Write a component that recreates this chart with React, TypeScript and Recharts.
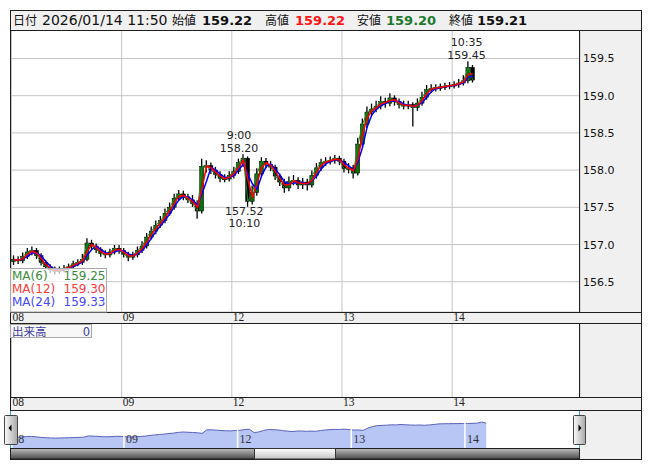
import React from 'react'
import {
  ComposedChart, AreaChart, Area, Bar, Line, XAxis, YAxis,
  CartesianGrid, ReferenceDot, ReferenceLine,
} from 'recharts'

// hourly bars, 08 07:00 -> 14 11:50 (hour index from the 08 day change)
const firstOpen = 156.77
const closes = [
  156.80, 156.78, 156.84, 156.90, 156.92, 156.85, 156.76, 156.70, 156.66, 156.64,
  156.66, 156.68, 156.70, 156.74, 156.76, 156.80, 157.02, 156.98, 156.93, 156.88,
  156.86, 156.90, 156.95, 156.92, 156.87, 156.83, 156.86, 156.92, 156.98, 157.10,
  157.18, 157.26, 157.32, 157.42, 157.50, 157.62, 157.68, 157.64, 157.60, 157.55,
  157.45, 158.05, 158.06, 158.00, 157.94, 157.89, 157.88, 157.93, 157.98, 158.10,
  158.16, 157.58, 157.70, 157.95, 158.12, 158.08, 158.04, 157.92, 157.84, 157.76,
  157.85, 157.86, 157.80, 157.84, 157.80, 157.93, 158.03, 158.10, 158.12, 158.13,
  158.16, 158.12, 158.02, 158.03, 157.96, 158.35, 158.62, 158.78, 158.82, 158.86,
  158.92, 158.90, 158.97, 158.92, 158.88, 158.86, 158.88, 158.84, 158.90, 158.98,
  159.08, 159.10, 159.11, 159.12, 159.13, 159.14, 159.15, 159.17, 159.20, 159.38,
  159.21,
]
const highs = [
  156.84, 156.83, 156.88, 156.94, 156.96, 156.94, 156.87, 156.78, 156.72, 156.69,
  156.69, 156.71, 156.73, 156.77, 156.79, 156.86, 157.07, 157.05, 157.00, 156.95,
  156.91, 156.93, 156.98, 156.98, 156.94, 156.89, 156.89, 156.96, 157.03, 157.14,
  157.23, 157.31, 157.37, 157.47, 157.55, 157.67, 157.72, 157.71, 157.67, 157.65,
  157.58, 158.14, 158.12, 158.09, 158.03, 157.97, 157.93, 157.97, 158.03, 158.14,
  158.20, 158.17, 157.78, 158.01, 158.16, 158.15, 158.11, 158.06, 157.94, 157.87,
  157.90, 157.92, 157.89, 157.88, 157.87, 157.98, 158.08, 158.14, 158.16, 158.17,
  158.19, 158.18, 158.14, 158.08, 158.06, 158.42, 158.68, 158.84, 158.88, 158.92,
  158.98, 158.96, 159.02, 158.99, 158.95, 158.92, 158.92, 158.90, 158.95, 159.04,
  159.13, 159.14, 159.14, 159.15, 159.16, 159.17, 159.18, 159.21, 159.26, 159.45,
  159.40,
]
const lows = [
  156.74, 156.75, 156.76, 156.82, 156.87, 156.82, 156.73, 156.68, 156.63, 156.61,
  156.62, 156.64, 156.66, 156.69, 156.72, 156.74, 156.79, 156.94, 156.90, 156.85,
  156.83, 156.84, 156.88, 156.89, 156.84, 156.79, 156.81, 156.84, 156.90, 156.96,
  157.08, 157.15, 157.24, 157.30, 157.40, 157.48, 157.60, 157.61, 157.57, 157.52,
  157.36, 157.43, 157.98, 157.96, 157.90, 157.85, 157.85, 157.86, 157.90, 157.96,
  158.06, 157.52, 157.55, 157.67, 157.93, 158.04, 158.00, 157.88, 157.80, 157.71,
  157.73, 157.81, 157.76, 157.76, 157.74, 157.78, 157.90, 158.00, 158.07, 158.09,
  158.10, 158.08, 157.98, 157.97, 157.90, 157.94, 158.32, 158.58, 158.74, 158.79,
  158.83, 158.85, 158.87, 158.88, 158.84, 158.83, 158.83, 158.60, 158.81, 158.88,
  158.96, 159.05, 159.07, 159.08, 159.09, 159.10, 159.11, 159.12, 159.15, 159.18,
  159.19,
]

const dayStarts = [0, 24, 48, 72, 96]
const dayLabels = ['08', '09', '12', '13', '14']
const priceTicks = [156.5, 157.0, 157.5, 158.0, 158.5, 159.0, 159.5]

const headerDate = '2026/01/14 11:50'
const headerOpen = '159.22'
const headerHigh = '159.22'
const headerLow = '159.20'
const headerClose = '159.21'

const maNames = ['MA(6)', 'MA(12)', 'MA(24)']
const maValues = ['159.25', '159.30', '159.33']
const maColors = ['#3a8c3a', '#ff3a3a', '#4646ff']

const annotations = [
  { t: 99.58, price: 159.45, lines: ['10:35', '159.45'], below: false },
  { t: 50.0, price: 158.2, lines: ['9:00', '158.20'], below: false },
  { t: 51.17, price: 157.52, lines: ['157.52', '10:10'], below: true },
]

const volumeTotal = '0'

const FONT = '"DejaVu Sans", Verdana, sans-serif'
const SERIF = '"Liberation Serif", "Times New Roman", serif'
const JP = '"Noto Sans CJK JP", sans-serif'
const GRID = '#c4c4c4'
const PANEL = '#f0f0f0'
const FRAME = '#1e1e1e'

const X_DOMAIN: [number, number] = [-0.33, 123.86]
const Y_DOMAIN: [number, number] = [156.093, 159.883]
const NAV_X: [number, number] = [-0.06, 120.3]
const NAV_Y: [number, number] = [154.94, 161.46]

function sma(values: number[], n: number) {
  return values.map((_, i) => {
    const s = values.slice(Math.max(0, i - n + 1), i + 1)
    return s.reduce((a, b) => a + b, 0) / s.length
  })
}

// windows scaled from 5-minute periods to hourly bars
const ma6 = sma(closes, 1)
const ma12 = sma(closes, 2)
const ma24 = sma(closes, 3)

const rows = closes.map((c, i) => ({
  t: i + 0.5,
  open: i === 0 ? firstOpen : closes[i - 1],
  close: c,
  high: highs[i],
  low: lows[i],
  range: [lows[i], highs[i]],
  ma6: ma6[i],
  ma12: ma12[i],
  ma24: ma24[i],
}))

function Candle(props: any) {
  const { x, y, width, height, payload } = props
  if (!payload || x == null) return null
  const top = Math.min(y, y + height)
  const h = Math.abs(height)
  const span = payload.high - payload.low || 1
  const py = (p: number) => top + ((payload.high - p) / span) * h
  const cx = x + width / 2
  const up = payload.close >= payload.open
  const bTop = py(Math.max(payload.open, payload.close))
  const bBot = py(Math.min(payload.open, payload.close))
  return (
    <g>
      <line x1={cx} x2={cx} y1={top - 1} y2={top + h + 1} stroke="#000" strokeWidth={1.3} />
      <rect
        x={cx - 2}
        y={bTop}
        width={4}
        height={Math.max(1.5, bBot - bTop)}
        fill={up ? '#0b6e0b' : '#000'}
        stroke="#000"
        strokeWidth={0.5}
      />
    </g>
  )
}

function AnnotLabel({ viewBox, lines, below }: any) {
  if (!viewBox) return null
  const cx = viewBox.x + (viewBox.width || 0) / 2 - 2
  const cy = viewBox.y + (viewBox.height || 0) / 2
  const offs = below ? [9, 21.5] : [-16, -3.5]
  return (
    <g>
      {lines.map((s: string, k: number) => (
        <text key={k} x={cx} y={cy + offs[k]} textAnchor="middle"
          fontFamily={FONT} fontSize={11} fill="#222">{s}</text>
      ))}
    </g>
  )
}

function DayTick({ x, payload, baseY }: any) {
  const i = dayStarts.indexOf(payload.value)
  return (
    <text x={x + 1} y={baseY} fontFamily={SERIF} fontSize={11.5} fill="#222">
      {dayLabels[i]}
    </text>
  )
}

function PriceTick({ y, payload }: any) {
  return (
    <text x={573} y={y + 4} fontFamily={FONT} fontSize={11} fill="#111">
      {Number(payload.value).toFixed(1)}
    </text>
  )
}

function Header() {
  const base = 24.5
  const lab = (x: number, s: string) => (
    <text x={x} y={base} fontFamily={JP} fontSize={12} fill="#111">{s}</text>
  )
  const val = (x: number, s: string, c: string) => (
    <text x={x} y={base} fontFamily={FONT} fontSize={13} fontWeight="bold" fill={c}>{s}</text>
  )
  return (
    <g>
      <rect x={10.5} y={10.5} width={631} height={20} fill={PANEL} stroke={FRAME} />
      {lab(13, '日付')}
      <text x={42} y={base} fontFamily={FONT} fontSize={14} fill="#111">{headerDate}</text>
      {lab(172, '始値')}
      {val(202, headerOpen, '#111')}
      {lab(265, '高値')}
      {val(295, headerHigh, '#ff1414')}
      {lab(357, '安値')}
      {val(386, headerLow, '#1c7a2c')}
      {lab(449, '終値')}
      {val(477, headerClose, '#111')}
    </g>
  )
}

function Overlay() {
  return (
    <svg width={653} height={470} style={{ position: 'absolute', left: 0, top: 0, pointerEvents: 'none' }}>
      <defs>
        <linearGradient id="scroll" x1="0" y1="0" x2="0" y2="1">
          <stop offset="0%" stopColor="#bdbdbd" />
          <stop offset="100%" stopColor="#4a4a4a" />
        </linearGradient>
        <linearGradient id="thumb" x1="0" y1="0" x2="0" y2="1">
          <stop offset="0%" stopColor="#ffffff" />
          <stop offset="100%" stopColor="#c4c4c4" />
        </linearGradient>
        <linearGradient id="btn" x1="0" y1="0" x2="1" y2="0">
          <stop offset="0%" stopColor="#fafafa" />
          <stop offset="100%" stopColor="#a8a8a8" />
        </linearGradient>
      </defs>
      <Header />
      {/* frame lines */}
      <line x1={10.5} x2={10.5} y1={30} y2={459.5} stroke={FRAME} />
      <line x1={641.5} x2={641.5} y1={30} y2={459.5} stroke={FRAME} />
      <line x1={10} x2={642} y1={459.5} y2={459.5} stroke={FRAME} />
      <line x1={579.5} x2={579.5} y1={30} y2={312} stroke={FRAME} />
      <line x1={579.5} x2={579.5} y1={323} y2={397} stroke={FRAME} />
      <line x1={579.5} x2={579.5} y1={410} y2={459} stroke={FRAME} />
      <line x1={10} x2={642} y1={312.5} y2={312.5} stroke={FRAME} />
      <line x1={10} x2={642} y1={323.5} y2={323.5} stroke={FRAME} />
      <line x1={10} x2={642} y1={397.5} y2={397.5} stroke={FRAME} />
      <line x1={10} x2={642} y1={410.5} y2={410.5} stroke={FRAME} />

      {/* MA legend */}
      <rect x={10.5} y={268.5} width={96} height={43.5} fill="rgba(255,255,255,0.72)" stroke="#a8a8a8" />
      {maNames.map((n, i) => (
        <g key={n}>
          <text x={12} y={280 + i * 13} fontFamily={FONT} fontSize={12} fill={maColors[i]}>{n}</text>
          <text x={105.5} y={280 + i * 13} textAnchor="end" fontFamily={FONT} fontSize={12} fill={maColors[i]}>{maValues[i]}</text>
        </g>
      ))}

      {/* volume label */}
      <rect x={10.5} y={324.5} width={81} height={13} fill="#f7f7f7" stroke="#a8a8a8" />
      <text x={12} y={335.5} fontFamily={JP} fontSize={11.5} fill="#3d3d9e">出来高</text>
      <text x={90} y={335.5} textAnchor="end" fontFamily={FONT} fontSize={11.5} fill="#3d3d9e">{volumeTotal}</text>

      {/* navigator edges */}
      <line x1={10.5} x2={10.5} y1={411} y2={448} stroke="#2ea8e0" />
      <line x1={579.5} x2={579.5} y1={411} y2={448} stroke="#2ea8e0" />

      {/* scrollbar */}
      <rect x={10.5} y={448.5} width={569} height={10.5} fill="url(#scroll)" stroke={FRAME} />
      <rect x={254.5} y={448.5} width={81} height={10.5} fill="url(#thumb)" stroke="#333" />

      {/* nav buttons */}
      <rect x={4.5} y={415.5} width={13} height={29} rx={1} fill="url(#btn)" stroke="#444" />
      <path d="M8.5 428 L11.5 424.5 L11.5 431.5 Z" fill="#000" />
      <rect x={573.5} y={415.5} width={12} height={29} rx={1} fill="url(#btn)" stroke="#444" />
      <path d="M581.5 428 L578.5 424.5 L578.5 431.5 Z" fill="#000" />
    </svg>
  )
}

export default function App() {
  return (
    <div style={{ position: 'absolute', left: 0, top: 0, width: 653, height: 470, background: '#fff' }}>
      <div style={{ position: 'absolute', left: 10, top: 10, width: 632, height: 450, background: PANEL }} />
      <div style={{ position: 'absolute', left: 10, top: 30, width: 570, height: 282, background: '#fff' }} />
      <div style={{ position: 'absolute', left: 10, top: 323, width: 570, height: 74, background: '#fff' }} />
      <div style={{ position: 'absolute', left: 10, top: 410, width: 570, height: 38, background: '#fff' }} />

      <div style={{ position: 'absolute', left: 10, top: 30 }}>
        <ComposedChart width={631} height={293} data={rows} margin={{ top: 0, right: 0, bottom: 0, left: 0 }}>
          <CartesianGrid stroke={GRID} />
          <XAxis dataKey="t" type="number" domain={X_DOMAIN} ticks={dayStarts} height={11}
            axisLine={false} tickLine={false} interval={0}
            tick={(p: any) => <DayTick {...p} baseY={290.5} />} />
          <YAxis orientation="right" width={61} domain={Y_DOMAIN} ticks={priceTicks}
            allowDataOverflow axisLine={false} tickLine={false} interval={0} tick={<PriceTick />} />
          <Bar dataKey="range" barSize={4} shape={<Candle />} isAnimationActive={false} />
          <Line dataKey="ma6" stroke="#1d8a1d" strokeWidth={1} dot={false} isAnimationActive={false} />
          <Line dataKey="ma24" stroke="#0000ff" strokeWidth={1.5} dot={false} isAnimationActive={false} />
          <Line dataKey="ma12" stroke="#ff0000" strokeWidth={1.5} dot={false} isAnimationActive={false} />
          {annotations.map((a) => (
            <ReferenceDot key={a.lines.join()} x={a.t} y={a.price} r={1} fill="none" stroke="none"
              ifOverflow="visible"
              label={(p: any) => <AnnotLabel viewBox={p.viewBox} lines={a.lines} below={a.below} />} />
          ))}
        </ComposedChart>
      </div>

      <div style={{ position: 'absolute', left: 10, top: 323 }}>
        <ComposedChart width={631} height={87} data={rows} margin={{ top: 0, right: 0, bottom: 0, left: 0 }}>
          <CartesianGrid stroke={GRID} horizontal={false} />
          <XAxis dataKey="t" type="number" domain={X_DOMAIN} ticks={dayStarts} height={13}
            axisLine={false} tickLine={false} interval={0}
            tick={(p: any) => <DayTick {...p} baseY={83} />} />
          <YAxis orientation="right" width={61} domain={[0, 1]} tick={false} axisLine={false} tickLine={false} />
        </ComposedChart>
      </div>

      <div style={{ position: 'absolute', left: 10, top: 410 }}>
        <AreaChart width={570} height={38} data={rows} margin={{ top: 0, right: 0, bottom: 0, left: 0 }}>
          <XAxis dataKey="t" type="number" domain={NAV_X} hide />
          <YAxis domain={NAV_Y} hide allowDataOverflow />
          <Area dataKey="close" type="linear" stroke="#5a62b8" strokeWidth={1} fill="#b8c6f6"
            fillOpacity={1} baseValue={NAV_Y[0]} isAnimationActive={false} />
          {dayStarts.map((d, i) => (
            <ReferenceLine key={d} x={d} stroke={i === 0 ? 'none' : '#fff'} strokeWidth={1.5}
              label={(p: any) => p.viewBox ? (
                <text x={p.viewBox.x + 2} y={33} fontFamily={SERIF} fontSize={12} fill="#333">{dayLabels[i]}</text>
              ) : null} />
          ))}
        </AreaChart>
      </div>

      <Overlay />
    </div>
  )
}
